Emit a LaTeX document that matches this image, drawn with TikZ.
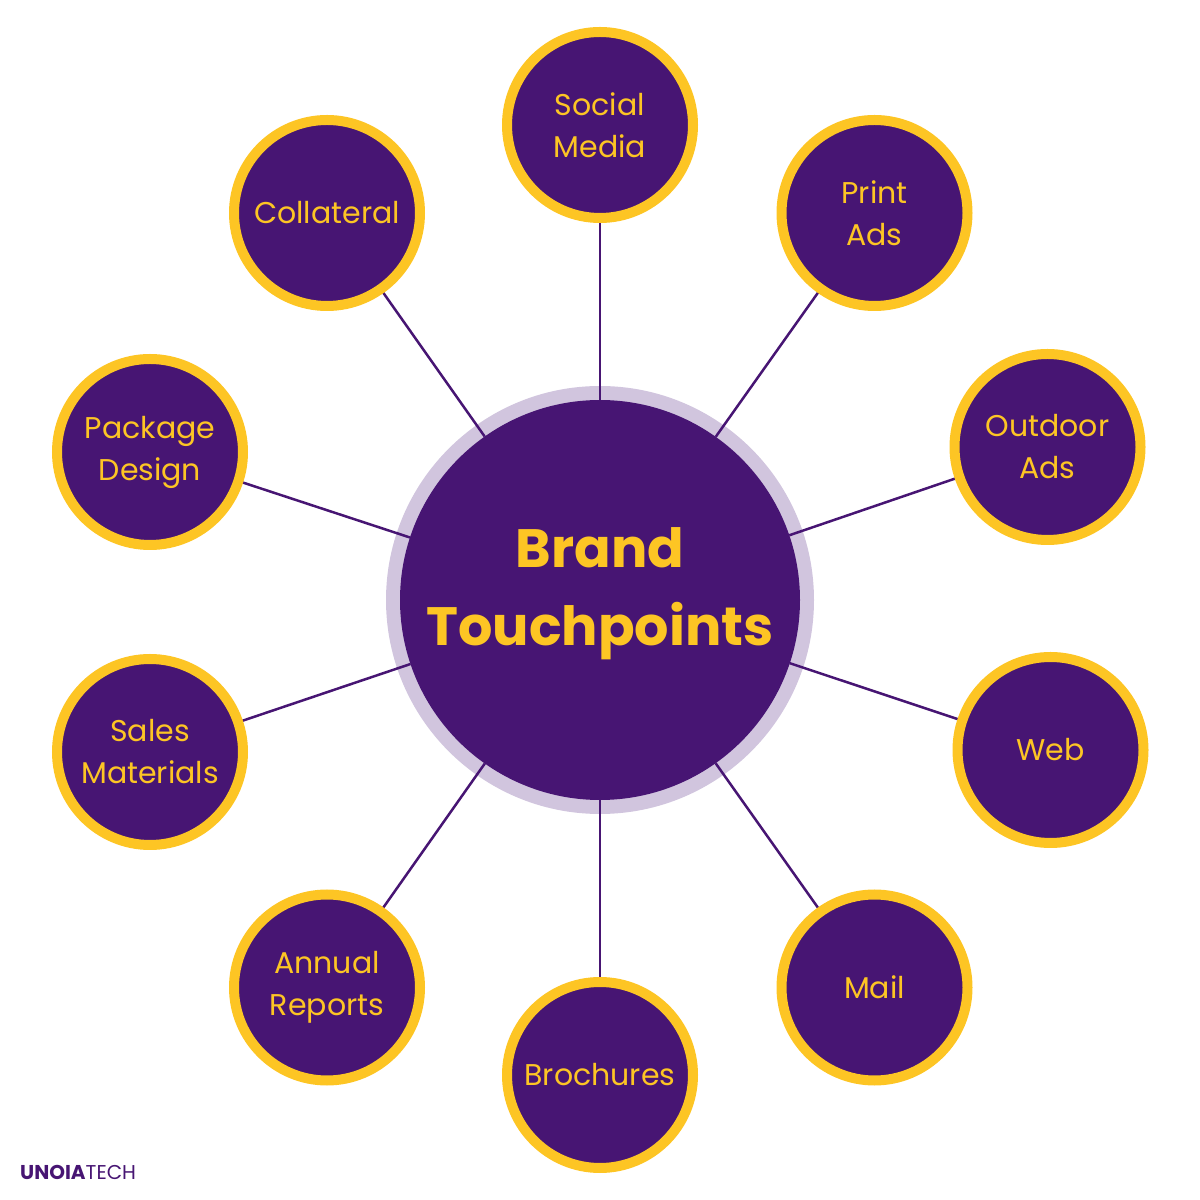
\documentclass[tikz,border=0pt]{standalone}
\usepackage{fontspec}
\setmainfont{Poppins}
\usetikzlibrary{backgrounds}
\definecolor{pp}{HTML}{471573}
\definecolor{yl}{HTML}{FDC524}
\definecolor{halo}{HTML}{D1C5DE}
\tikzset{
  sat/.style={circle, fill=pp, draw=yl, line width=10pt, minimum size=186pt, inner sep=0pt, outer sep=0pt,
    text=yl, align=center, font=\fontsize{30}{42}\selectfont},
  hub/.style={circle, fill=pp, minimum size=400pt, inner sep=0pt, outer sep=0pt},
  hubtext/.style={text=yl, align=center, inner sep=0pt, font=\bfseries\fontsize{54}{78}\selectfont},
  spoke/.style={draw=pp, line width=2.5pt}
}
\begin{document}
\begin{tikzpicture}[x=1pt,y=1pt]
\useasboundingbox (0,0) rectangle (1200,1200);
\node[hub] (c) at (600,600) {};
\node[hubtext] (ct) at (600,606) {Brand\\Touchpoints};
\node[sat] (s1) at (600,1075) {Social\\Media};
\node[sat] (s2) at (874.5,987) {Print\\Ads};
\node[sat] (s3) at (1047.5,753) {Outdoor\\Ads};
\node[sat] (s4) at (1050.5,450) {Web};
\node[sat] (s5) at (874.5,212.5) {Mail};
\node[sat] (s6) at (600,125) {Brochures};
\node[sat] (s7) at (327,212.5) {Annual\\Reports};
\node[sat] (s8) at (150,448) {Sales\\Materials};
\node[sat] (s9) at (150,748) {Package\\Design};
\node[sat] (s10) at (327,987) {Collateral};
\begin{scope}[on background layer]
\fill[halo] (c.center) circle[radius=214];
\foreach \i in {1,...,10} \draw[spoke] (c) -- (s\i);
\end{scope}
\node[anchor=base west, text=pp, inner sep=0pt, font=\fontsize{20}{20}\selectfont] (logo) at (20,20) {\textbf{UNOIA}TECH};
\end{tikzpicture}
\end{document}
